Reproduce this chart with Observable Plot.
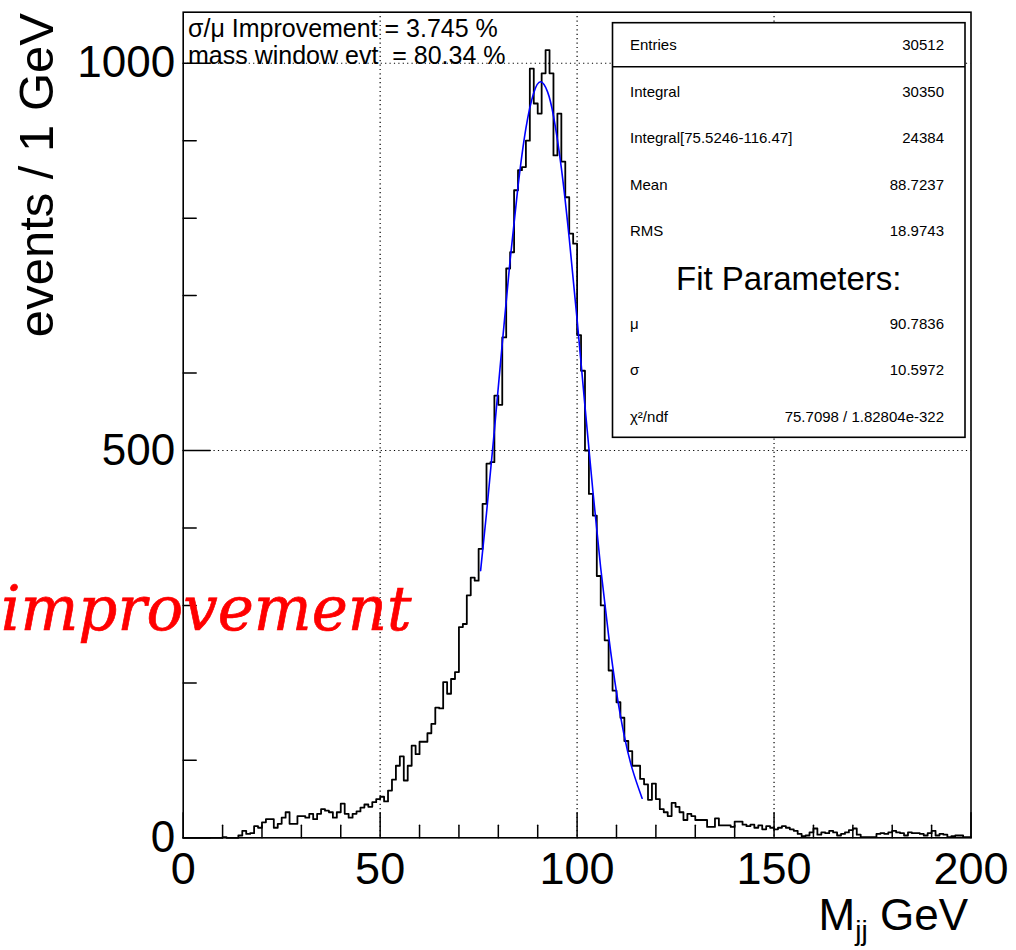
<!DOCTYPE html>
<html><head><meta charset="utf-8">
<script src="https://cdn.jsdelivr.net/npm/d3@7"></script>
<script src="https://cdn.jsdelivr.net/npm/@observablehq/plot@0.6"></script>
<style>
html,body{margin:0;padding:0;background:#fff;}
#chart{position:relative;width:1016px;height:950px;overflow:hidden;}
</style></head><body><div id="chart"></div>
<script>
// ---- data ----
// events per 1 GeV bin, bins 0..199 GeV
const counts = [
  0,0,0,0,0,0,0,0,0,0,
  1,0,0,0,3,9,5,6,15,13,
  20,24,24,13,18,26,33,18,18,28,
  28,26,31,24,31,37,35,33,26,33,
  44,31,26,31,34,39,43,40,46,50,
  53,47,61,75,93,105,74,93,119,108,
  124,124,135,147,168,167,201,186,205,214,
  272,276,313,336,332,373,431,483,485,571,
  559,646,735,756,836,862,866,900,993,948,
  935,987,1017,987,881,935,873,827,780,767,
  649,603,500,444,416,338,300,255,216,190,
  175,155,125,112,93,93,76,69,49,70,
  50,37,33,28,45,40,33,23,31,28,
  23,23,23,14,14,25,16,16,16,14,
  21,21,17,15,17,13,16,11,15,13,
  11,13,15,13,11,9,5,2,3,7,
  12,4,7,6,9,7,3,5,7,10,
  12,4,1,1,1,1,5,6,5,7,
  9,7,6,3,7,6,6,5,3,6,
  9,3,5,4,1,2,3,3,1,1
];
const binWidth = 1; // GeV
// Gaussian fit curve
const fitX = [75.5, 77, 79, 81, 83, 85, 87, 89, 90.8, 92.5, 94, 96, 98, 100, 102, 104, 106, 108, 110, 112, 114, 116.5];
const fitY = [345, 419, 526, 638, 746, 841, 916, 962, 976, 963, 932, 865, 774, 669, 557, 448, 348, 261, 188, 131, 89, 51];

const xMajorTicks = [0, 50, 100, 150, 200];
const xMinorTicks = [10, 20, 30, 40, 60, 70, 80, 90, 110, 120, 130, 140, 160, 170, 180, 190];
const yMajorTicks = [0, 500, 1000];
const yMinorTicks = [100, 200, 300, 400, 600, 700, 800, 900];
const xGrid = [50, 100, 150];
const yGrid = [500, 1000];

const infoLines = ["σ/μ Improvement = 3.745 %", "mass window evt  = 80.34 %"];
const statLabels = ["Entries", "Integral", "Integral[75.5246-116.47]", "Mean", "RMS"];
const statValues = ["30512", "30350", "24384", "88.7237", "18.9743"];
const fitTitle = "Fit Parameters:";
const fitLabels = ["μ", "σ", "χ²/ndf"];
const fitValues = ["90.7836", "10.5972", "75.7098 / 1.82804e-322"];
const xTitle = ["M", "jj", " GeV"];
const yTitle = "events / 1 GeV";
const overlayWord = "improvement";

// ---- build ----
const steps = counts.map((c, i) => ({x: i * binWidth, y: c}));
steps.push({x: counts.length * binWidth, y: counts[counts.length - 1]});
const fit = fitX.map((x, i) => ({x, y: fitY[i]}));

const tickUp = {draw(ctx, l) { ctx.moveTo(0, 0); ctx.lineTo(0, -l); }};

const W = 1016, H = 950;
const mL = 182.7, mR = 45.5, mT = 11.7, mB = 112.7;

const chart = Plot.plot({
  width: W, height: H,
  marginLeft: mL, marginRight: mR, marginTop: mT, marginBottom: mB,
  style: {fontFamily: "'Liberation Sans', Arial, Helvetica, sans-serif", background: "white", color: "black", overflow: "visible"},
  x: {domain: [0, 200]},
  y: {domain: [0, 1065.9]},
  marks: [
    Plot.ruleX(xGrid, {x: d => d, stroke: "#000", strokeWidth: 1.2, strokeDasharray: "1.2,3.2"}),
    Plot.ruleY(yGrid, {y: d => d, stroke: "#000", strokeWidth: 1.2, strokeDasharray: "1.2,3.2"}),
    Plot.line(steps, {x: "x", y: "y", curve: "step-after", stroke: "black", strokeWidth: 1.8}),
    Plot.line(fit, {x: "x", y: "y", curve: "natural", stroke: "#0000ff", strokeWidth: 1.6}),
    Plot.vector(xMajorTicks, {x: d => d, y: () => 0, length: 25, rotate: 0, anchor: "start", shape: tickUp, stroke: "black", strokeWidth: 1.5}),
    Plot.vector(xMinorTicks, {x: d => d, y: () => 0, length: 12.5, rotate: 0, anchor: "start", shape: tickUp, stroke: "black", strokeWidth: 1.5}),
    Plot.vector(yMajorTicks, {y: d => d, x: () => 0, length: 27, rotate: 90, anchor: "start", shape: tickUp, stroke: "black", strokeWidth: 1.5}),
    Plot.vector(yMinorTicks, {y: d => d, x: () => 0, length: 13, rotate: 90, anchor: "start", shape: tickUp, stroke: "black", strokeWidth: 1.5}),
    Plot.frame({stroke: "black", strokeWidth: 1.6}),
    Plot.axisX({ticks: xMajorTicks, tickSize: 0, tickPadding: 14, fontSize: 45, label: null, tickFormat: d => String(d)}),
    Plot.axisY({ticks: yMajorTicks, tickSize: 0, tickPadding: 8, fontSize: 44, label: null, tickFormat: d => String(d)})
  ]
});
document.getElementById("chart").appendChild(chart);

const svg = d3.select(chart);
const font = "'Liberation Sans', Arial, Helvetica, sans-serif";

// y title
svg.append("text")
  .attr("transform", "translate(53,13) rotate(-90)")
  .attr("text-anchor", "end")
  .attr("font-family", font).attr("font-size", 49).attr("fill", "black")
  .text(yTitle);

// x title with subscript
const xt = svg.append("text")
  .attr("x", 968).attr("y", 930)
  .attr("text-anchor", "end")
  .attr("font-family", font).attr("font-size", 44).attr("fill", "black");
xt.append("tspan").text(xTitle[0]);
xt.append("tspan").attr("font-size", 28).attr("dy", 10).text(xTitle[1]);
xt.append("tspan").attr("dy", -10).text(xTitle[2]);

// top-left info text
infoLines.forEach((t, i) => {
  svg.append("text")
    .attr("x", 188).attr("y", 36.7 + i * 27.3)
    .attr("text-anchor", "start")
    .attr("font-family", font).attr("font-size", 25).attr("fill", "black")
    .style("white-space", "pre")
    .text(t);
});

// stats box
const bx0 = 612.5, bx1 = 965, by0 = 22.7, by1 = 437.3;
svg.append("rect")
  .attr("x", bx0).attr("y", by0).attr("width", bx1 - bx0).attr("height", by1 - by0)
  .attr("fill", "white").attr("stroke", "black").attr("stroke-width", 1.6);
svg.append("line")
  .attr("x1", bx0).attr("x2", bx1).attr("y1", 66.7).attr("y2", 66.7)
  .attr("stroke", "black").attr("stroke-width", 1.6);
const rowY = i => 45 + i * 46.4;
const rows = statLabels.map((l, i) => ({l, v: statValues[i], c: rowY(i)}))
  .concat(fitLabels.map((l, i) => ({l, v: fitValues[i], c: rowY(6 + i)})));
rows.forEach(r => {
  svg.append("text").attr("x", 630).attr("y", r.c + 5.3).attr("text-anchor", "start")
    .attr("font-family", font).attr("font-size", 15).attr("fill", "black").text(r.l);
  svg.append("text").attr("x", 944).attr("y", r.c + 5.3).attr("text-anchor", "end")
    .attr("font-family", font).attr("font-size", 15).attr("fill", "black").text(r.v);
});
svg.append("text").attr("x", (bx0 + bx1) / 2).attr("y", 290).attr("text-anchor", "middle")
  .attr("font-family", font).attr("font-size", 33).attr("fill", "black").text(fitTitle);

// red overlay word
svg.append("text")
  .attr("x", 1).attr("y", 630).attr("text-anchor", "start")
  .attr("font-family", "'DejaVu Serif', serif").attr("font-style", "italic")
  .attr("font-size", 61).attr("fill", "#ff0000")
  .attr("stroke", "#ff0000").attr("stroke-width", 0.7)
  .text(overlayWord);
</script>
</body></html>
